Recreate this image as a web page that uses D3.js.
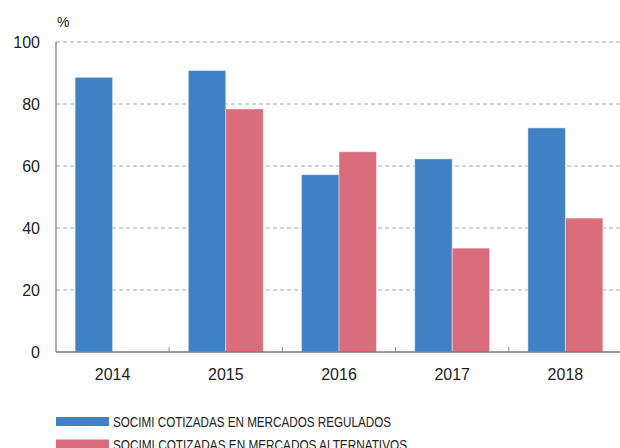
<!DOCTYPE html>
<html>
<head>
<meta charset="utf-8">
<script src="https://d3js.org/d3.v7.min.js"></script>
<style>
  body { margin: 0; background: #fff; }
  svg text { font-family: "Liberation Sans", Arial, sans-serif; fill: #222; }
  .legend text { font-family: "Liberation Sans Narrow", "Liberation Sans", Arial, sans-serif; }
</style>
</head>
<body>
<svg width="620" height="448"></svg>
<script>
// data
var years = ["2014", "2015", "2016", "2017", "2018"];
var regulados = [88.6, 90.8, 57.2, 62.3, 72.3];
var alternativos = [null, 78.4, 64.6, 33.5, 43.2];
var yTicks = [0, 20, 40, 60, 80, 100];
var seriesNames = ["SOCIMI COTIZADAS EN MERCADOS REGULADOS", "SOCIMI COTIZADAS EN MERCADOS ALTERNATIVOS"];
var colors = ["#4080c4", "#d96d7b"];

var svg = d3.select("svg"),
    plotLeft = 56, plotRight = 620, plotTop = 42, plotBottom = 352;

var x0 = d3.scaleBand().domain(years).range([plotLeft, 622]).padding(0);
var x1 = d3.scaleBand().domain([0, 1]).range([0, x0.bandwidth()]).paddingOuter(0.51).paddingInner(0);
var y = d3.scaleLinear().domain([0, 100]).range([plotBottom, plotTop]);

// gridlines
svg.append("g").selectAll("line")
    .data(yTicks.filter(function(d) { return d > 0; }))
    .enter().append("line")
    .attr("x1", plotLeft).attr("x2", plotRight)
    .attr("y1", function(d) { return y(d); })
    .attr("y2", function(d) { return y(d); })
    .attr("stroke", "#aaa")
    .attr("stroke-width", 1)
    .attr("stroke-dasharray", "4,3");

// bars
var rows = years.map(function(yr, i) { return { year: yr, vals: [regulados[i], alternativos[i]] }; });
var grp = svg.append("g").selectAll("g")
    .data(rows)
    .enter().append("g")
    .attr("transform", function(d) { return "translate(" + x0(d.year) + ",0)"; });

grp.selectAll("rect")
    .data(function(d) { return d.vals.map(function(v, k) { return { k: k, v: v }; }).filter(function(e) { return e.v != null; }); })
    .enter().append("rect")
    .attr("x", function(d) { return x1(d.k); })
    .attr("width", x1.bandwidth())
    .attr("y", function(d) { return y(d.v); })
    .attr("height", function(d) { return y(0) - y(d.v); })
    .attr("fill", function(d) { return colors[d.k]; })
    .attr("stroke", "rgba(255,255,255,0.45)")
    .attr("stroke-width", 1);

// axes
svg.append("line").attr("x1", plotLeft).attr("x2", plotLeft).attr("y1", plotTop).attr("y2", plotBottom)
    .attr("stroke", "#777").attr("stroke-width", 1.2);
svg.append("line").attr("x1", plotLeft).attr("x2", plotRight).attr("y1", plotBottom).attr("y2", plotBottom)
    .attr("stroke", "#777").attr("stroke-width", 1.5);

svg.append("g").selectAll("line")
    .data(years.slice(1))
    .enter().append("line")
    .attr("x1", function(d) { return x0(d); })
    .attr("x2", function(d) { return x0(d); })
    .attr("y1", plotBottom).attr("y2", plotBottom - 5)
    .attr("stroke", "#888").attr("stroke-width", 1);

svg.append("g").selectAll("text")
    .data(yTicks)
    .enter().append("text")
    .attr("x", 40)
    .attr("y", function(d) { return y(d); })
    .attr("dy", "0.35em")
    .attr("text-anchor", "end")
    .style("font-size", "16px")
    .text(function(d) { return d; });

svg.append("text").attr("x", 57).attr("y", 27).style("font-size", "14px").text("%");

svg.append("g").selectAll("text")
    .data(years)
    .enter().append("text")
    .attr("x", function(d) { return x0(d) + x0.bandwidth() / 2; })
    .attr("y", 380)
    .attr("text-anchor", "middle")
    .style("font-size", "16px")
    .text(function(d) { return d; });

// legend
var lg = svg.append("g").attr("class", "legend").selectAll("g")
    .data(seriesNames)
    .enter().append("g")
    .attr("transform", function(d, i) { return "translate(56," + (417 + i * 22.5) + ")"; });

lg.append("rect").attr("width", 53).attr("height", 9)
    .attr("fill", function(d, i) { return colors[i]; });

lg.append("text")
    .attr("x", 57).attr("y", 10)
    .style("font-size", "14.5px")
    .attr("textLength", function(d, i) { return i === 0 ? 278 : 294; })
    .attr("lengthAdjust", "spacingAndGlyphs")
    .text(function(d) { return d; });
</script>
</body>
</html>
